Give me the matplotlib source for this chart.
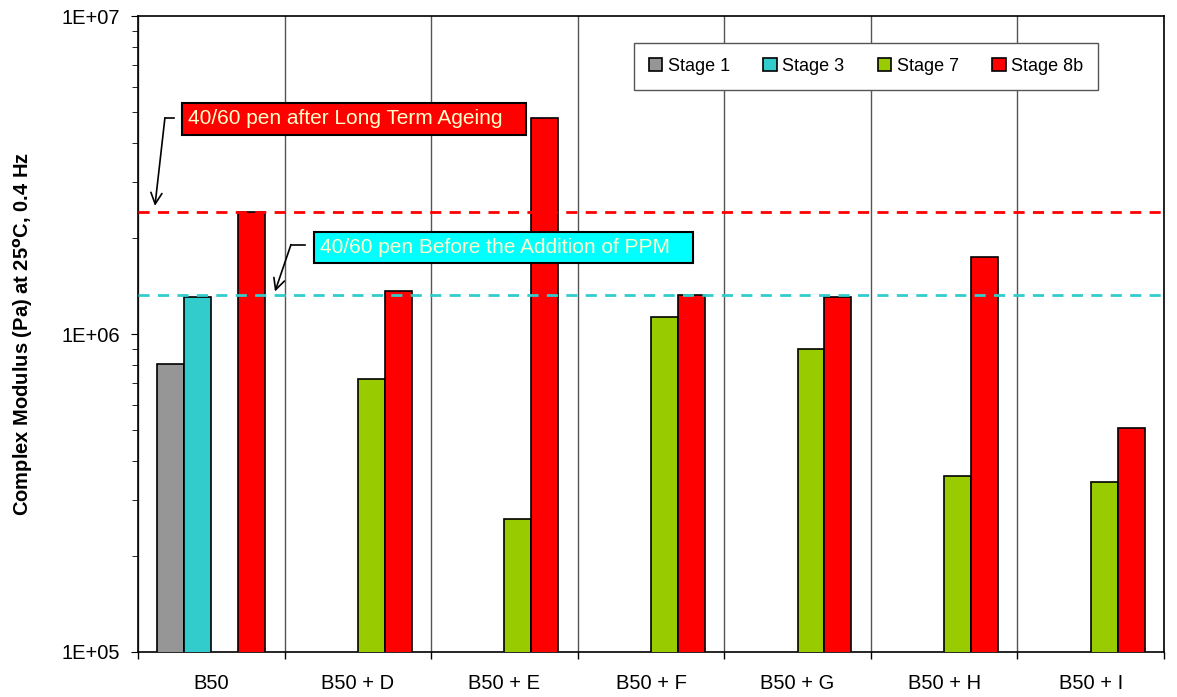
import numpy as np
import matplotlib.pyplot as plt
from matplotlib.ticker import LogLocator, NullFormatter, FixedLocator

plt.rcParams['font.family'] = ['Liberation Sans', 'DejaVu Sans']

groups = ['B50', 'B50 + D', 'B50 + E', 'B50 + F', 'B50 + G', 'B50 + H', 'B50 + I']
stages = ['Stage 1', 'Stage 3', 'Stage 7', 'Stage 8b']
stage1 = [8.05e5, np.nan, np.nan, np.nan, np.nan, np.nan, np.nan]
stage3 = [1.31e6, np.nan, np.nan, np.nan, np.nan, np.nan, np.nan]
stage7 = [np.nan, 7.2e5, 2.61e5, 1.13e6, 9.0e5, 3.58e5, 3.43e5]
stage8b = [2.42e6, 1.365e6, 4.77e6, 1.325e6, 1.31e6, 1.75e6, 5.07e5]
colors = ['#969696', '#33CCCC', '#99CC00', '#FF0000']

ref_aged = 2.42e6      # 40/60 pen after long term ageing
ref_fresh = 1.33e6     # 40/60 pen before PPM

fig = plt.figure(figsize=(11.77, 6.97), dpi=100)
ax = fig.add_axes([0.1172, 0.0646, 0.8717, 0.9124])

x = np.arange(len(groups))
w = 0.184
for i, (vals, lab, c) in enumerate(zip([stage1, stage3, stage7, stage8b], stages, colors)):
    ax.bar(x + (i - 1.5) * w, vals, w, color=c, edgecolor='black', linewidth=1.2,
           label=lab, zorder=3)

ax.axhline(ref_aged, color='#FF0000', ls=(0, (4, 3)), lw=2, zorder=4)
ax.axhline(ref_fresh, color='#33CCCC', ls=(0, (4, 3)), lw=2, zorder=4)

ax.set_yscale('log')
ax.set_ylim(1e5, 1e7)
ax.set_xlim(-0.5, len(groups) - 0.5)
ax.yaxis.set_minor_locator(LogLocator(base=10, subs=np.arange(2, 10), numticks=20))
ax.yaxis.set_minor_formatter(NullFormatter())
ax.set_yticks([1e5, 1e6, 1e7])
ax.set_yticklabels(['1E+05', '1E+06', '1E+07'])

ax.set_xticks(x)
ax.set_xticklabels(groups)
ax.xaxis.set_minor_locator(FixedLocator(np.arange(len(groups) + 1) - 0.5))
ax.tick_params(axis='x', which='major', length=0, pad=16, labelsize=14.5)
ax.tick_params(axis='x', which='minor', length=5, direction='out', width=1)
ax.tick_params(axis='y', which='major', length=5, pad=8, direction='out', labelsize=14.5)
ax.tick_params(axis='y', which='minor', length=4, direction='out')
ax.grid(axis='x', which='minor', color='#555555', lw=1, zorder=1)

for s in ax.spines.values():
    s.set_linewidth(1.2)

ax.set_ylabel('Complex Modulus (Pa) at 25$^{\\mathbf{o}}$C, 0.4 Hz', fontsize=14.5,
              fontweight='bold')
ax.yaxis.set_label_coords(-0.100, 0.5)

# annotations
ax.text(-0.159, 4.75e6, '40/60 pen after Long Term Ageing   ', color='#FFFFCC',
        fontsize=15, va='center', ha='left', zorder=6,
        bbox=dict(boxstyle='square,pad=0.3', fc='#FF0000', ec='black', lw=1.5))
ax.plot([-0.254, -0.316], [4.78e6, 4.78e6], color='black', lw=1.2, zorder=6)
ax.annotate('', xy=(-0.384, 2.53e6), xytext=(-0.316, 4.78e6),
            arrowprops=dict(arrowstyle='->', color='black', lw=1.2,
                            shrinkA=0, shrinkB=0, mutation_scale=20), zorder=6)

ax.text(0.742, 1.87e6, '40/60 pen Before the Addition of PPM   ', color='#FFFFCC',
        fontsize=15, va='center', ha='left', zorder=6,
        bbox=dict(boxstyle='square,pad=0.3', fc='#00FFFF', ec='black', lw=1.5))
ax.plot([0.639, 0.544], [1.91e6, 1.91e6], color='black', lw=1.2, zorder=6)
ax.annotate('', xy=(0.435, 1.36e6), xytext=(0.544, 1.91e6),
            arrowprops=dict(arrowstyle='->', color='black', lw=1.2,
                            shrinkA=0, shrinkB=0, mutation_scale=20), zorder=6)

leg = ax.legend(loc='upper right', bbox_to_anchor=(0.9357, 0.9576), ncol=4, fontsize=13,
                frameon=True, fancybox=False, edgecolor='#555555', framealpha=1,
                handlelength=0.75, handleheight=0.75, handletextpad=0.3,
                columnspacing=1.85, borderpad=0.82, borderaxespad=0)
leg.get_frame().set_linewidth(1)
leg.set_zorder(7)

plt.savefig('out.png', dpi=100)
